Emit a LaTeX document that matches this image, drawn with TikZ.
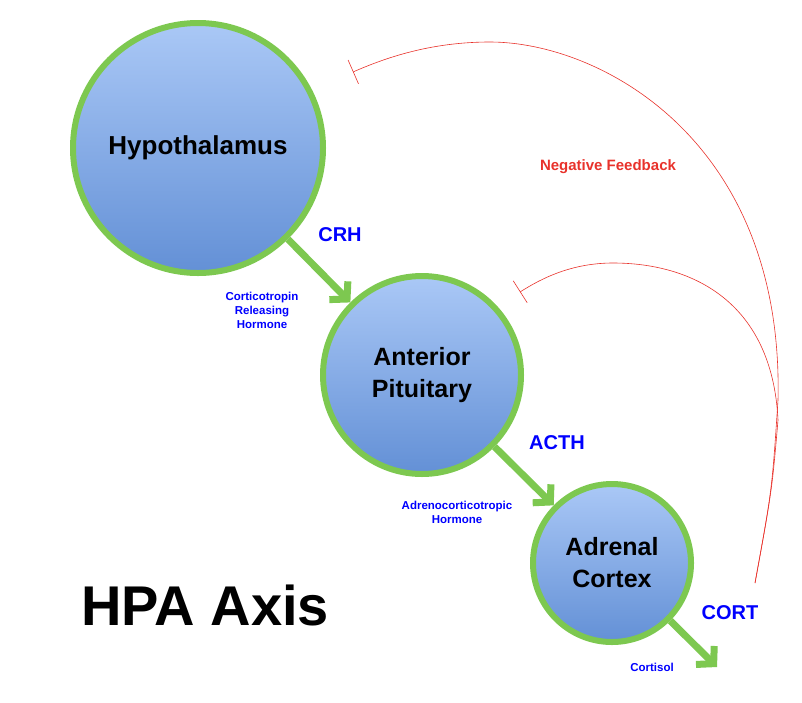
\documentclass[tikz,border=0pt]{standalone}
\usepackage{fontspec}
\setmainfont{Liberation Sans}
\usetikzlibrary{arrows.meta}
\definecolor{ringgreen}{HTML}{7DC850}
\definecolor{topblue}{HTML}{AAC8F6}
\definecolor{botblue}{HTML}{6390D6}
\definecolor{fbred}{HTML}{E8322B}
\tikzset{
  gland/.style={circle, draw=ringgreen, line width=6pt, top color=topblue, bottom color=botblue,
    font=\bfseries, align=center, inner sep=0pt},
  flow/.style={draw=ringgreen, line width=7pt, -{Straight Barb[length=12pt, width=26pt]}},
  hormone/.style={text=blue, font=\bfseries\fontsize{20}{22}\selectfont},
  fullname/.style={text=blue, font=\bfseries\fontsize{11.5}{14}\selectfont, align=center},
  feedback/.style={draw=fbred, line width=0.6pt, -{Bar[width=26pt, line width=0.6pt]}}
}
\begin{document}
\begin{tikzpicture}[x=1pt, y=-1pt]
\useasboundingbox (0,0) rectangle (802,702);
% glands
\node[gland, minimum size=250pt, font=\bfseries\fontsize{26}{30}\selectfont] (hyp) at (198,148) {Hypothalamus};
\node[gland, minimum size=198pt, font=\bfseries\fontsize{25}{32}\selectfont] (ant) at (422,375) {Anterior\\Pituitary};
\node[gland, minimum size=158pt, font=\bfseries\fontsize{25}{32}\selectfont] (adr) at (612,563) {Adrenal\\Cortex};
\coordinate (out) at (717,667);
% hormone arrows
\draw[flow] (hyp) -- (ant);
\draw[flow] (ant) -- (adr);
\draw[flow] (adr) -- (out);
\node[hormone] (crh) at (340,235) {CRH};
\node[fullname] (crhname) at (262,310) {Corticotropin\\Releasing\\Hormone};
\node[hormone] (acth) at (557,443) {ACTH};
\node[fullname] (acthname) at (457,512) {Adrenocorticotropic\\Hormone};
\node[hormone] (cort) at (730,613) {CORT};
\node[fullname] (cortname) at (652,667) {Cortisol};
% feedback
\coordinate (fbstart) at (755,583);
\draw[feedback] (fbstart) .. controls (772,490) .. (778,400) .. controls (784,140) and (600,42) .. (490,42) .. controls (430,42) and (385,58) .. (353,72);
\draw[feedback] (fbstart) .. controls (772,490) .. (778,420) .. controls (772,300) and (690,263) .. (613,263) .. controls (572,263) and (542,278) .. (520,292);
\node[text=fbred, font=\bfseries\fontsize{15}{18}\selectfont] (fblabel) at (608,167) {Negative Feedback};
\node[font=\bfseries\fontsize{56}{60}\selectfont] (title) at (205,605) {HPA Axis};
\end{tikzpicture}
\end{document}
